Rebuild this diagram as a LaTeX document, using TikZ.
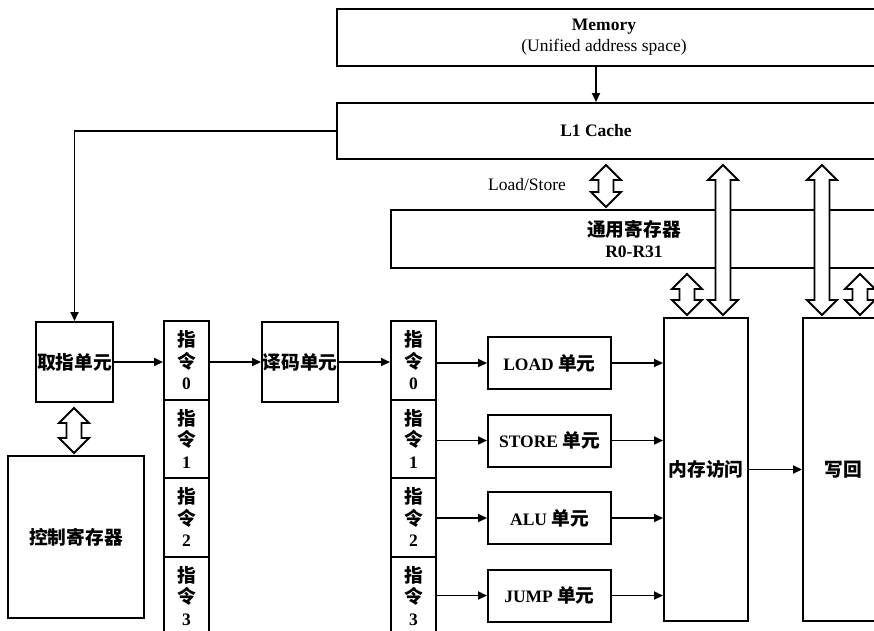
\documentclass[tikz,border=0pt]{standalone}
\usepackage{fontspec}
\setmainfont{Liberation Serif}
\newfontfamily\cjk{Noto Sans CJK SC}[Scale=1.07]
\usepackage{tikz}
\usetikzlibrary{arrows.meta,calc}

\tikzset{
  blk/.style={draw, line width=2pt, fill=white, inner sep=0pt, anchor=north west},
  lbl/.style={font=\fontsize{17.5}{21.5}\selectfont\bfseries, align=center, inner sep=0pt},
  arr/.style={line width=1.9pt, -{Triangle[length=9pt,width=8pt]}},
  fat/.style={draw, line width=1.9pt, fill=white, line join=miter},
}

% hollow double arrow: x position, upper node, lower node
\newcommand\fatarrow[3]{%
  \draw[fat] let \p1=(#2.south), \p2=(#3.north) in
    (#1pt,\y1-5pt) -- (#1pt+15pt,\y1-20pt) -- (#1pt+7.5pt,\y1-20pt)
    -- (#1pt+7.5pt,\y2+17pt) -- (#1pt+15pt,\y2+17pt) -- (#1pt,\y2+2pt)
    -- (#1pt-15pt,\y2+17pt) -- (#1pt-7.5pt,\y2+17pt)
    -- (#1pt-7.5pt,\y1-20pt) -- (#1pt-15pt,\y1-20pt) -- cycle;
}

\begin{document}
\begin{tikzpicture}[x=1pt, y=-1pt]
\useasboundingbox (0,0) rectangle (874,630);
\clip (0,0) rectangle (874,630);

% Memory and cache
\node[blk, minimum width=544pt, minimum height=57pt] (mem) at (336,8) {};
\node[lbl] (memtxt) at (604,37) {Memory\\{\mdseries (Unified address space)}};
\node[blk, minimum width=544pt, minimum height=56pt] (l1) at (336,102) {};
\node[lbl] (l1txt) at (596,131) {L1 Cache};
\draw[arr] (mem.south -| l1txt) -- (l1.north -| l1txt);

% Register file
\node[blk, minimum width=490pt, minimum height=58pt] (gpr) at (390,209) {};
\node[lbl] (gprtxt) at (634,239) {{\cjk 通用寄存器}\\R0-R31};
\node[lbl, font=\fontsize{17.5}{21.5}\selectfont] (ls) at (527,185) {Load/Store};

% Fetch / decode
\node[blk, lbl, minimum width=77pt, minimum height=80pt] (fetch) at (35,321) {\cjk 取指单元};
\node[blk, lbl, minimum width=136pt, minimum height=162pt] (ctrl) at (7,455) {\cjk 控制寄存器};
\node[blk, lbl, minimum width=76pt, minimum height=80pt] (dec) at (261,321) {\cjk 译码单元};

% Instruction queues
\foreach \i in {0,...,3} {
    \node[blk, lbl, minimum width=45pt, minimum height=78.5pt] (qa\i) at (163,{320+78.5*\i}) {{\cjk 指}\\{\cjk 令}\\\i};
    \node[blk, lbl, minimum width=45pt, minimum height=78.5pt] (qb\i) at (390,{320+78.5*\i}) {{\cjk 指}\\{\cjk 令}\\\i};
}

% Back end
\node[blk, lbl, minimum width=84pt, minimum height=303pt] (macc) at (663,317) {\cjk 内存访问};
\node[blk, lbl, minimum width=80pt, minimum height=303pt] (wb) at (802,317) {\cjk 写回};

% Execution units
\foreach \n/\t [count=\i from 0] in {ld/LOAD, st/STORE, alu/ALU, jmp/JUMP} {
    \node[blk, lbl, minimum width=123pt, minimum height=52pt] (\n) at (487,{336+77.5*\i}) {\t\ {\cjk 单元}};
    \draw[arr] (\n.west -| qb\i.east) -- (\n.west);
    \draw[arr] (\n.east) -- (\n.east -| macc.west);
}

% Connections
\draw[arr] (l1.west) -| (fetch.north);
\draw[arr] (fetch.east) -- (fetch.east -| qa0.west);
\draw[arr] (dec.west -| qa0.east) -- (dec.west);
\draw[arr] (dec.east) -- (dec.east -| qb0.west);
\draw[arr] (macc.east) -- (wb.west);

% Hollow double arrows
\fatarrow{606}{l1}{gpr}
\fatarrow{723}{l1}{macc}
\fatarrow{822}{l1}{wb}
\fatarrow{687}{gpr}{macc}
\fatarrow{860}{gpr}{wb}
\fatarrow{74}{fetch}{ctrl}

\end{tikzpicture}
\end{document}
